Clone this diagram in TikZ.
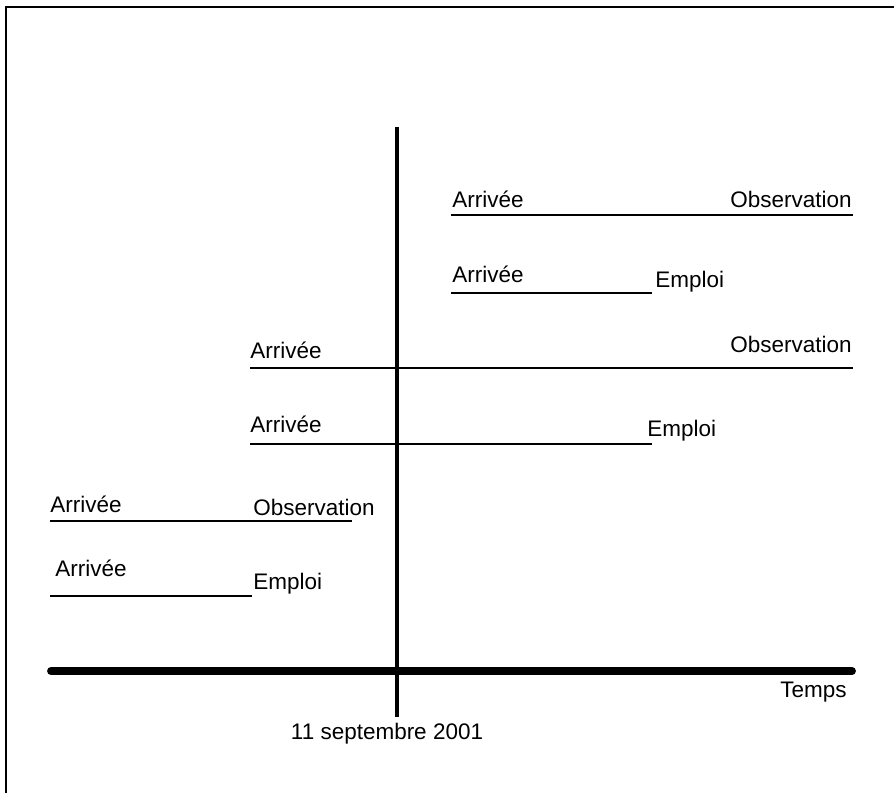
\documentclass[tikz,border=0pt]{standalone}
\usepackage{fontspec}
\setmainfont{Liberation Sans}
\usepackage{tikz}
\usetikzlibrary{positioning}
\tikzstyle{evtext} = [inner sep=0pt, font=\fontsize{12.8}{15}\selectfont]
\tikzstyle{period} = [line width=0.85pt]
\tikzstyle{timeaxis} = [line width=4.5pt, line cap=round]
\tikzstyle{datemark} = [line width=2.5pt]
\tikzstyle{frame} = [line width=1.2pt]

\begin{document}
\begin{tikzpicture}[x=0.02cm, y=-0.02cm]
        \useasboundingbox (0,0) rectangle (894,793);
        \draw [frame] (6,793) -- (6,7) -- (894,7);

        % axe du temps et date
        \coordinate (tstart) at (51,671);
        \coordinate (tend) at (852,671);
        \coordinate (dtop) at (397,127);
        \coordinate (dbot) at (397,717);
        \draw [timeaxis] (tstart) -- (tend);
        \draw [datemark] (dtop) -- (dbot);
        \node (temps) [evtext, anchor=base west] at (780,698) {Temps};
        \node (date) [evtext, anchor=base] at (387,740) {11 septembre 2001};

        % periodes
        \coordinate (a1) at (451,215);
        \coordinate (b1) at (853,215);
        \coordinate (a2) at (451,293);
        \coordinate (b2) at (652,293);
        \coordinate (a3) at (250,368);
        \coordinate (b3) at (853,368);
        \coordinate (a4) at (250,444);
        \coordinate (b4) at (652,444);
        \coordinate (a5) at (50,521);
        \coordinate (b5) at (352,521);
        \coordinate (a6) at (50,596);
        \coordinate (b6) at (252,596);
        \foreach \i in {1,...,6}
            \draw [period] (a\i) -- (b\i);

        \node (arr1) [evtext, anchor=base west] at (452,208) {Arrivée};
        \node (obs1) [evtext, anchor=base east] at (852,208) {Observation};
        \node (arr2) [evtext, anchor=base west] at (452,283) {Arrivée};
        \node (emp2) [evtext, anchor=base west] at (655,288) {Emploi};
        \node (arr3) [evtext, anchor=base west] at (250,359) {Arrivée};
        \node (obs3) [evtext, anchor=base east] at (852,353) {Observation};
        \node (arr4) [evtext, anchor=base west] at (250,433) {Arrivée};
        \node (emp4) [evtext, anchor=base west] at (647,437) {Emploi};
        \node (arr5) [evtext, anchor=base west] at (50,513) {Arrivée};
        \node (obs5) [evtext, anchor=base west] at (253,516) {Observation};
        \node (arr6) [evtext, anchor=base west] at (55,577) {Arrivée};
        \node (emp6) [evtext, anchor=base west] at (253,590) {Emploi};
    \end{tikzpicture}
\end{document}
